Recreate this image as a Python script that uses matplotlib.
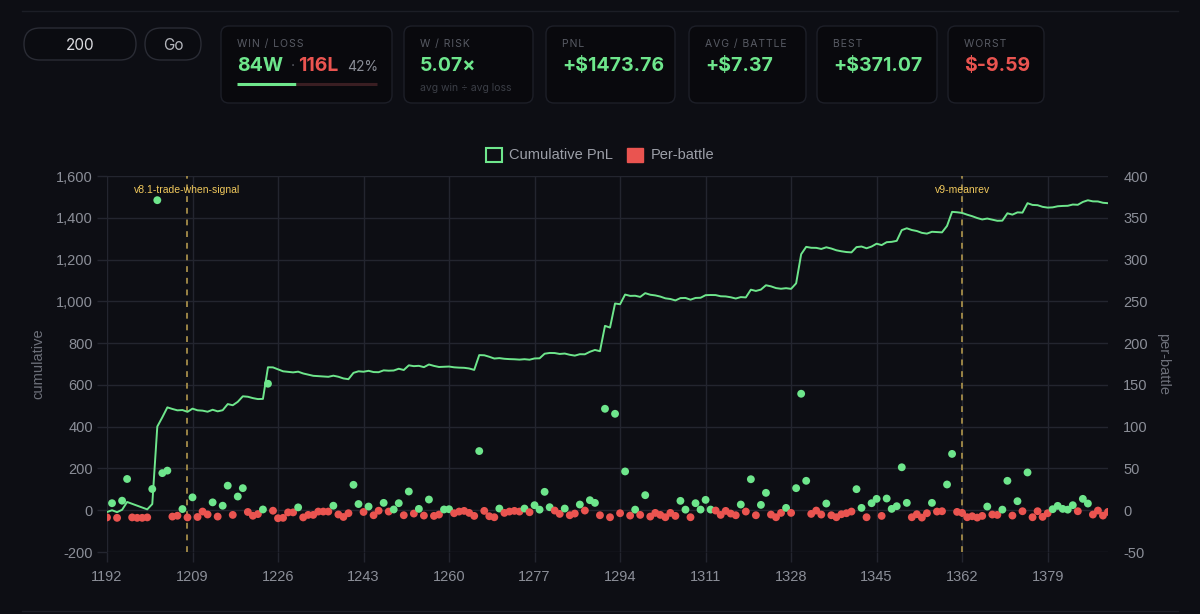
import numpy as np
import matplotlib
matplotlib.use('Agg')
import matplotlib.pyplot as plt
from matplotlib.patches import FancyBboxPatch, Patch

plt.rcParams['axes.unicode_minus'] = False

W, H = 1200, 614

# battle ids on the x axis (category labels)
battle_ids = list(range(1192, 1392))

# pnl per battle (right axis)
per_battle = [
    -8.6, 8.4, -9.1, 11.4, 37.4, -8.6, -9.1, -9.1, -8.6, 25.4,
    371.07, 44.4, 47.4, -7.6, -6.6, 1.4, -8.6, 15.4, -8.1, -1.6,
    -5.1, 9.4, -7.6, 5.4, 29.4, -5.6, 16.4, 26.4, -2.1, -6.6,
    -4.6, 0.9, 151.4, -0.6, -9.59, -9.1, -2.6, -2.6, 3.4, -8.6,
    -5.6, -5.6, -1.6, -1.6, -1.6, 5.4, -5.1, -8.1, -3.6, 30.4,
    7.4, -2.1, 4.4, -6.0, -0.6, 8.8, -1.6, 0.9, 8.4, -6.0,
    22.4, -4.0, 1.6, -6.4, 12.8, -6.8, -5.2, 0.9, 1.2, -3.6,
    -1.6, -0.8, -3.2, -6.8, 70.8, -0.8, -7.2, -8.4, 2.0, -3.2,
    -1.6, -0.8, -1.6, 2.0, -2.4, 6.0, 0.7, 22.0, 3.6, -0.4,
    -4.4, 2.0, -6.0, -4.0, 6.8, -0.4, 12.0, 8.8, -6.0, 121.4,
    -8.4, 115.4, -3.6, 46.4, -6.4, 0.7, -5.6, 18.0, -7.6, -3.2,
    -5.6, -8.4, -3.2, -6.8, 11.2, 0.7, -8.4, 8.4, 0.8, 12.4,
    0.8, -0.4, -5.6, -0.8, -4.0, -6.0, 6.8, -1.6, 37.1, -6.0,
    6.4, 20.8, -5.2, -8.4, -3.2, 2.8, -3.2, 26.4, 139.4, 35.2,
    -4.4, -0.4, -5.2, 8.0, -6.0, -8.4, -4.8, -3.6, -1.6, 25.2,
    2.8, -8.4, 8.4, 13.6, -6.8, 14.0, 1.6, 4.8, 51.4, 8.8,
    -8.4, -4.8, -8.8, -3.6, 8.8, -1.6, -1.2, 30.8, 67.4, -2.0,
    -3.2, -8.4, -7.2, -8.8, -6.8, 4.4, -5.2, -5.6, 0.7, 35.2,
    -6.4, 10.8, -1.2, 45.2, -8.4, -1.2, -8.0, -3.6, 1.2, 5.2,
    1.6, 0.7, 6.0, -1.2, 13.6, 8.0, -5.2, -0.4, -6.4, -2.0,
]
cumulative = np.cumsum(per_battle)

# strategy version markers
marker_ids = [1208, 1362]
marker_labels = ['v8.1-trade-when-signal', 'v9-meanrev']

# stat cards
card_titles = ['W / RISK', 'PNL', 'AVG / BATTLE', 'BEST', 'WORST']
card_values = ['5.07×', '+$1473.76', '+$7.37', '+$371.07', '$-9.59']
card_value_neg = [False, False, False, False, True]
card_sub = ['avg win ÷ avg loss', '', '', '', '']
card_x = [(404, 533), (546, 675), (689, 806), (817, 937), (948, 1044)]
wins, losses, win_pct = 84, 116, 42

BG = '#0d0e14'
CARD = '#09090d'
BORDER = '#1d1f28'
GRID = '#23252f'
GREEN = '#6ee68c'
RED = '#ea5450'
TICK = '#8b8e98'

fig = plt.figure(figsize=(W / 100, H / 100), dpi=100, facecolor=BG)

# overlay in pixel units for the header
bg = fig.add_axes([0, 0, 1, 1], zorder=0)
bg.set_xlim(0, W)
bg.set_ylim(H, 0)
bg.axis('off')
bg.set_facecolor('none')

bg.plot([22, 1178], [11, 11], color='#1c1e26', lw=1)
bg.plot([22, 1178], [611, 611], color='#1c1e26', lw=1)


def box(x0, y0, x1, y1, r, fc, ec):
    bg.add_patch(FancyBboxPatch((x0, y0), x1 - x0, y1 - y0,
                                boxstyle='round,pad=0,rounding_size=%d' % r,
                                fc=fc, ec=ec, lw=1))


def spaced(s):
    # small caps titles have a little tracking
    return '\u200a'.join(s)


ui = ['Inter', 'DejaVu Sans']
box(24, 28, 136, 60, 16, '#0b0c11', '#2a2c35')
bg.text(80, 45, '200', color='#dcdce0', fontsize=11, ha='center', va='center', family=ui)
box(145, 28, 201, 60, 16, '#0b0c11', '#2a2c35')
bg.text(173, 45, 'Go', color='#b4b6bc', fontsize=11, ha='center', va='center', family=ui)

# win / loss card
box(221, 26, 392, 103, 8, CARD, BORDER)
bg.text(237, 44, spaced('WIN / LOSS'), color='#585b64', fontsize=7.5, va='center', family=ui)
bg.text(237, 66, '%dW' % wins, color=GREEN, fontsize=14, weight='bold', va='center', family=ui)
bg.text(291, 66, '·', color='#5a5d66', fontsize=10, va='center', family=ui)
bg.text(298, 66, '%dL' % losses, color=RED, fontsize=14, weight='bold', va='center', family=ui)
bg.text(347, 67, '%d%%' % win_pct, color='#8a8d96', fontsize=10, va='center', family=ui)
bar_x0, bar_x1 = 237, 377
bar_mid = bar_x0 + (bar_x1 - bar_x0) * wins / (wins + losses)
bg.plot([bar_x0, bar_mid], [84, 84], color=GREEN, lw=2.2, solid_capstyle='butt')
bg.plot([bar_mid, bar_x1], [84, 84], color='#3a1e22', lw=2.2, solid_capstyle='butt')

for (x0, x1), t, v, neg, s in zip(card_x, card_titles, card_values, card_value_neg, card_sub):
    box(x0, 26, x1, 103, 8, CARD, BORDER)
    bg.text(x0 + 16, 44, spaced(t), color='#585b64', fontsize=7.5, va='center', family=ui)
    bg.text(x0 + 16, 66, v, color=RED if neg else GREEN, fontsize=14, weight='bold',
            va='center', family=ui)
    if s:
        bg.text(x0 + 16, 88, s, color='#3c3f47', fontsize=7.5, va='center', family=ui)

# chart
x = np.arange(len(battle_ids))
ax = fig.add_axes([107 / W, 1 - 552 / H, (1108 - 107) / W, (552 - 176) / H], zorder=1)
ax.set_facecolor('none')
ax2 = ax.twinx()

ax.plot(x, cumulative, color=GREEN, lw=1.4, zorder=3)
cols = [GREEN if v > 0 else RED for v in per_battle]
ax2.scatter(x, per_battle, s=32, c=cols, edgecolors='none', zorder=4)

ax.set_xlim(0, len(battle_ids) - 1)
ax.set_ylim(-200, 1600)
ax2.set_ylim(-50, 400)
ax.set_yticks(np.arange(-200, 1601, 200))
ax.set_yticklabels(['{:,}'.format(v) for v in range(-200, 1601, 200)])
ax2.set_yticks(np.arange(-50, 401, 50))
xt = np.arange(0, len(battle_ids), 17)
ax.set_xticks(xt)
ax.set_xticklabels([str(battle_ids[i]) for i in xt])

ax.grid(True, color=GRID, lw=1)
ax.set_axisbelow(True)
for a in (ax, ax2):
    for sp in a.spines.values():
        sp.set_visible(False)
chart_font = ['Liberation Sans', 'DejaVu Sans']
ax.tick_params(axis='both', colors=GRID, labelcolor=TICK, labelsize=10.5, length=7, width=1, pad=3)
ax.tick_params(axis='x', pad=6)
ax2.tick_params(axis='y', length=0, labelcolor=TICK, labelsize=10.5, pad=11)
for lab in ax.get_xticklabels() + ax.get_yticklabels() + ax2.get_yticklabels():
    lab.set_family(chart_font)

ax.set_ylabel('cumulative', color='#6d707a', fontsize=10.5, family=chart_font)
ax.yaxis.set_label_coords(-0.062, 0.5)
ax2.set_ylabel('per-battle', color='#6d707a', fontsize=10.5, rotation=270, va='center',
               family=chart_font)
ax2.yaxis.set_label_coords(1.055, 0.5)

for bid, lab in zip(marker_ids, marker_labels):
    i = battle_ids.index(bid)
    ax.axvline(i, color='#9a8446', lw=1.4, ls=(0, (3, 3)), zorder=2)
    ax.text(i, 0.963, lab, transform=ax.get_xaxis_transform(), color='#f0c85c',
            fontsize=7.5, ha='center', va='center', family=chart_font, zorder=5)

handles = [Patch(facecolor='none', edgecolor=GREEN, lw=1.5), Patch(facecolor=RED, edgecolor=RED)]
leg = fig.legend(handles, ['Cumulative PnL', 'Per-battle'], loc='center',
                 bbox_to_anchor=(0.5, 1 - 155 / H), ncol=2, frameon=False,
                 handlelength=1.1, handleheight=1.1, handletextpad=0.5, columnspacing=1.0,
                 prop={'family': chart_font, 'size': 10.5})
for t in leg.get_texts():
    t.set_color('#9c9fa8')

fig.savefig('out.png', dpi=100, facecolor=BG)
